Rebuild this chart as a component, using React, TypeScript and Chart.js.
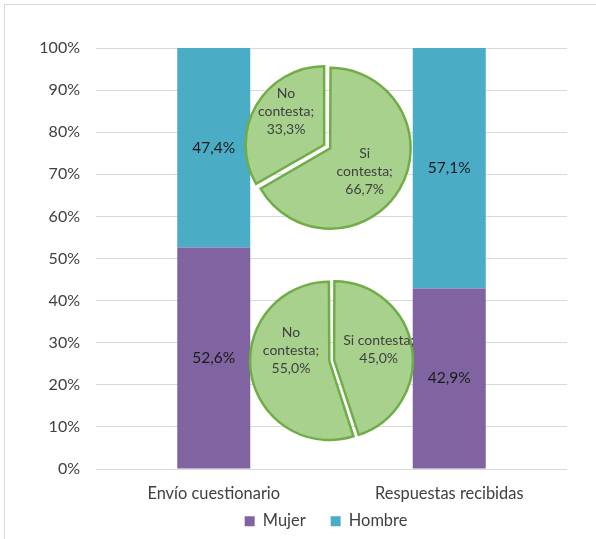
import React, { useEffect, useRef } from "react";
import { Chart, registerables } from "chart.js";

Chart.register(...registerables);

const categories = ["Envío cuestionario", "Respuestas recibidas"];
const mujer = [52.6, 42.9];
const hombre = [47.4, 57.1];
const yTicks = [0, 10, 20, 30, 40, 50, 60, 70, 80, 90, 100];

const pieLabels = ["Si contesta", "No contesta"];
const pieTop = [66.7, 33.3];
const pieBottom = [45.0, 55.0];

const FONT = "Lato, 'Open Sans', sans-serif";

const fmt = (v: number) => v.toFixed(1).replace(".", ",") + "%";

const barLabelPlugin = {
  id: "barLabels",
  afterDatasetsDraw(chart: any) {
    const ctx = chart.ctx;
    ctx.save();
    ctx.font = `15.5px ${FONT}`;
    ctx.fillStyle = "#1a1a1a";
    ctx.textAlign = "center";
    ctx.textBaseline = "middle";
    chart.data.datasets.forEach((ds: any, di: number) => {
      const meta = chart.getDatasetMeta(di);
      meta.data.forEach((el: any, i: number) => {
        const y = (el.y + el.base) / 2;
        ctx.fillText(fmt(ds.data[i]), el.x, y);
      });
    });
    ctx.restore();
  },
};

// place the legend under the plot area (centred on it) instead of the whole canvas
const legendPlacePlugin = {
  id: "legendPlace",
  afterLayout(chart: any, _args: any, opts: any) {
    const l = chart.legend;
    if (!l) return;
    l.left = opts.left;
    l.width = l.right - l.left;
    l.top = opts.top;
    l.bottom = l.top + l.height;
  },
};

function wrap(ctx: CanvasRenderingContext2D, text: string, maxW: number) {
  const words = text.split(" ");
  const lines: string[] = [];
  let cur = "";
  for (const w of words) {
    const t = cur ? cur + " " + w : w;
    if (cur && ctx.measureText(t).width > maxW) {
      lines.push(cur);
      cur = w;
    } else cur = t;
  }
  if (cur) lines.push(cur);
  return lines;
}

const pieLabelPlugin = {
  id: "pieLabels",
  afterDatasetsDraw(chart: any, _args: any, opts: any) {
    const ctx = chart.ctx;
    const meta = chart.getDatasetMeta(0);
    const ds = chart.data.datasets[0];
    ctx.save();
    ctx.font = `14px ${FONT}`;
    ctx.fillStyle = "#404040";
    ctx.textAlign = "center";
    ctx.textBaseline = "middle";
    meta.data.forEach((arc: any, i: number) => {
      const { startAngle, endAngle, outerRadius, x, y, circumference } = arc.getProps(
        ["startAngle", "endAngle", "outerRadius", "x", "y", "circumference"],
        true
      );
      const off = (arc.options.offset || 0) / 4;
      const fix = 1 - Math.sin(Math.min(Math.PI, circumference || 0));
      const tr = off + off * fix;
      const half = (startAngle + endAngle) / 2;
      const cx = x + Math.cos(half) * tr;
      const cy = y + Math.sin(half) * tr;
      const ang = (opts.angles[i] - 90) * Math.PI / 180;
      const d = opts.dist[i] * outerRadius;
      const lx = cx + Math.cos(ang) * d;
      const ly = cy + Math.sin(ang) * d;
      const text = chart.data.labels[i] + "; " + fmt(ds.data[i]);
      const lines = wrap(ctx, text, opts.wrap[i]);
      const lh = 18;
      lines.forEach((ln: string, k: number) => {
        ctx.fillText(ln, lx, ly + (k - (lines.length - 1) / 2) * lh);
      });
    });
    ctx.restore();
  },
};

function PieChart(props: {
  values: number[];
  offsets: number[];
  size: number;
  left: number;
  top: number;
  angles: number[];
  dist: number[];
  wrapW: number[];
}) {
  const ref = useRef<HTMLCanvasElement>(null);
  useEffect(() => {
    const chart = new Chart(ref.current!, {
      type: "pie",
      data: {
        labels: pieLabels,
        datasets: [
          {
            data: props.values,
            backgroundColor: "#A9D18E",
            borderColor: "#70AD47",
            borderWidth: 2.5,
            borderJoinStyle: "miter",
            offset: props.offsets,
            hoverOffset: 0,
          } as any,
        ],
      },
      options: {
        responsive: false,
        animation: false,
        events: [],
        plugins: {
          legend: { display: false },
          tooltip: { enabled: false },
          pieLabels: { angles: props.angles, dist: props.dist, wrap: props.wrapW },
        } as any,
      },
      plugins: [pieLabelPlugin],
    });
    return () => chart.destroy();
  }, []);
  return (
    <canvas
      ref={ref}
      width={props.size}
      height={props.size}
      style={{
        position: "absolute",
        left: props.left,
        top: props.top,
        width: props.size,
        height: props.size,
        pointerEvents: "none",
      }}
    />
  );
}

function BarChart() {
  const ref = useRef<HTMLCanvasElement>(null);
  useEffect(() => {
    const chart = new Chart(ref.current!, {
      type: "bar",
      data: {
        labels: categories,
        datasets: [
          { label: "Mujer", data: mujer, backgroundColor: "#8064A2", barPercentage: 0.31, categoryPercentage: 1 },
          { label: "Hombre", data: hombre, backgroundColor: "#4BACC6", barPercentage: 0.31, categoryPercentage: 1 },
        ],
      },
      options: {
        responsive: false,
        animation: false,
        events: [],
        layout: { padding: { top: 48, right: 29, bottom: -16.4, left: 0 } },
        scales: {
          x: {
            stacked: true,
            grid: { display: false, drawTicks: false },
            border: { display: false },
            ticks: { color: "#404040", font: { family: FONT, size: 16.4 }, padding: 15 },
            afterFit: (s: any) => {
              s.height = 35;
            },
          },
          y: {
            stacked: true,
            min: 0,
            max: 100,
            afterBuildTicks: (s: any) => {
              s.ticks = yTicks.map((v) => ({ value: v }));
            },
            grid: { color: "#D9D9D9", drawTicks: false },
            border: { display: false },
            ticks: {
              color: "#404040",
              font: { family: FONT, size: 16 },
              padding: 16,
              callback: (v: any) => v + "%",
            },
            afterFit: (s: any) => {
              s.width = 96;
            },
          },
        },
        plugins: {
          legend: {
            position: "bottom",
            labels: {
              color: "#404040",
              font: { family: FONT, size: 16.4 },
              boxWidth: 10,
              boxHeight: 10,
              padding: 25,
            },
          },
          legendPlace: { left: 85, top: 488 },
          tooltip: { enabled: false },
        } as any,
      },
      plugins: [barLabelPlugin, legendPlacePlugin],
    });
    return () => chart.destroy();
  }, []);
  return <canvas ref={ref} width={596} height={539} style={{ position: "absolute", left: 0, top: 0 }} />;
}

export default function App() {
  return (
    <div style={{ position: "absolute", left: 0, top: 0, width: 596, height: 539, overflow: "hidden", background: "#fff" }}>
      <div
        style={{
          position: "absolute",
          left: 4,
          top: 4,
          width: 620,
          height: 560,
          border: "1px solid #D9D9D9",
        }}
      />
      <BarChart />
      <PieChart
        values={pieTop}
        offsets={[10, 17.6]}
        size={176}
        left={239.5}
        top={58.5}
        angles={[124, 311]}
        dist={[0.5, 0.64]}
        wrapW={[60, 60]}
      />
      <PieChart
        values={pieBottom}
        offsets={[10.6, 9]}
        size={167}
        left={247.5}
        top={276.5}
        angles={[77, 287]}
        dist={[0.57, 0.49]}
        wrapW={[85, 60]}
      />
    </div>
  );
}
